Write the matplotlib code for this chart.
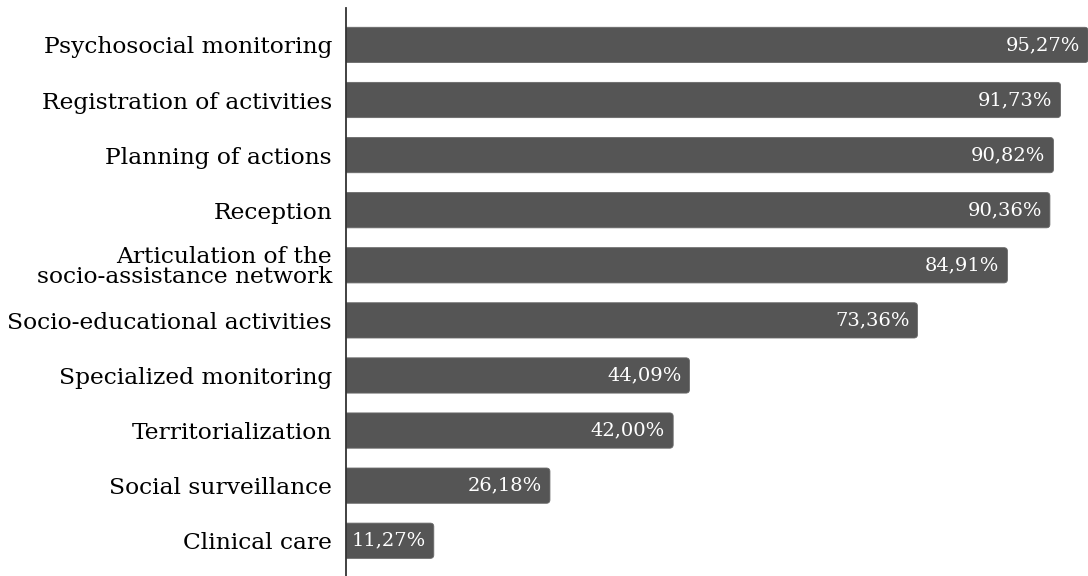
import numpy as np
import matplotlib.pyplot as plt
from matplotlib.patches import FancyBboxPatch

categories = ['Psychosocial monitoring', 'Registration of activities', 'Planning of actions',
              'Reception', 'Articulation of the\nsocio-assistance network',
              'Socio-educational activities', 'Specialized monitoring',
              'Territorialization', 'Social surveillance', 'Clinical care']
values = [95.27, 91.73, 90.82, 90.36, 84.91, 73.36, 44.09, 42.00, 26.18, 11.27]

bar_color = '#555555'
W, H, DPI = 1088, 576, 100

plt.rcParams['font.family'] = ['DejaVu Serif']

fig = plt.figure(figsize=(W / DPI, H / DPI), dpi=DPI)
ax = fig.add_axes([346 / W, 0, (W - 346) / W, 1 - 8 / H])

y = np.arange(len(categories))
bars = ax.barh(y, values, height=0.64, color=bar_color)

x_max = (W - 346) / 7.79
ax.set_xlim(0, x_max)
ax.set_ylim(9.64, -0.67)

# swap the plain rectangles for rounded ones
px_x = (W - 346) / x_max
px_y = (H - 8) / 10.31
for b in bars:
    b.set_visible(False)
    x0, y0 = b.get_x(), b.get_y()
    w, h = b.get_width(), b.get_height()
    r = 3.5 / px_x
    patch = FancyBboxPatch((x0 - 1, y0), w + 1, h,
                           boxstyle=f'round,pad=0,rounding_size={r}',
                           mutation_aspect=px_x / px_y,
                           facecolor=bar_color, edgecolor='#6a6a6a', linewidth=0.6)
    ax.add_patch(patch)

for yi, v in zip(y, values):
    ax.text(v - 8 / px_x, yi, f'{v:.2f}%'.replace('.', ','), color='white',
            ha='right', va='center', fontsize=14)

ax.set_yticks(y)
ax.set_yticklabels(categories, fontsize=16.8, linespacing=0.92)
ax.tick_params(axis='y', length=0, pad=10)
ax.set_xticks([])
for s in ['top', 'right', 'bottom']:
    ax.spines[s].set_visible(False)
ax.spines['left'].set_color('#333333')
ax.spines['left'].set_linewidth(1.3)

fig.savefig('out.png', dpi=DPI)
